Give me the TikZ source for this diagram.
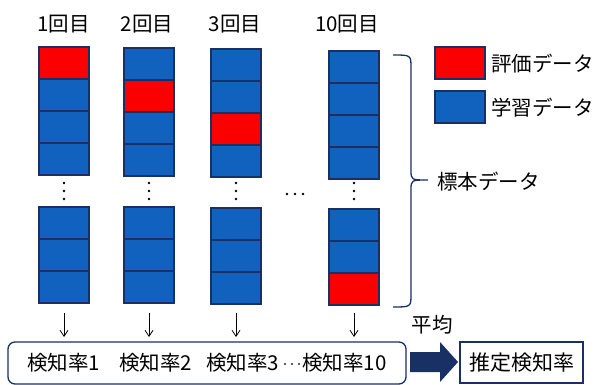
\documentclass[tikz,border=0pt]{standalone}
\usepackage{fontspec}
\setmainfont{Noto Sans CJK JP}
\usetikzlibrary{arrows.meta}
\definecolor{navy}{RGB}{24,48,100}
\definecolor{cellblue}{RGB}{16,98,190}
\definecolor{cellred}{RGB}{250,0,0}
\tikzset{
  cell/.style={draw=navy, line width=1.1pt, minimum width=50pt, minimum height=32pt, inner sep=0pt, outer sep=0pt},
  bluecell/.style={cell, fill=cellblue},
  redcell/.style={cell, fill=cellred},
  lbl/.style={font=\fontsize{20.5}{20.5}\selectfont, inner sep=0pt},
  dotmark/.style={fill=black, circle, inner sep=0pt, minimum size=2.8pt},
  smalldot/.style={fill=black!85, circle, inner sep=0pt, minimum size=2.4pt},
  downarrow/.style={-{Straight Barb[length=6pt,width=8pt]}, line width=0.8pt},
}
\begin{document}
\begin{tikzpicture}[x=1pt,y=-1pt]
\useasboundingbox (0,0) rectangle (595,385);
% column labels
\node[lbl] (l1) at (63.5,24) {1回目};
\node[lbl] (l2) at (147,24) {2回目};
\node[lbl] (l3) at (235,24) {3回目};
\node[lbl] (l10) at (347,24) {10回目};
% columns: center x, top y, red index (top block), bottom top y, red bottom index
\foreach \c/\x/\t/\r/\b/\rb in {1/64/47/1/207/0, 2/149/48/2/207/0, 3/236/49/3/208/0, 10/354/51/0/209/3}{
  \foreach \i in {1,...,4}{
    \ifnum\i=\r
      \node[redcell] (c\c t\i) at (\x,{\t+16+32*(\i-1)}) {};
    \else
      \node[bluecell] (c\c t\i) at (\x,{\t+16+32*(\i-1)}) {};
    \fi
  }
  \foreach \i in {1,...,3}{
    \ifnum\i=\rb
      \node[redcell] (c\c b\i) at (\x,{\b+16+32*(\i-1)}) {};
    \else
      \node[bluecell] (c\c b\i) at (\x,{\b+16+32*(\i-1)}) {};
    \fi
  }
  \foreach \d in {183,191,199}{
    \node[dotmark] at (\x,\d) {};
  }
  \coordinate (a\c s) at (\x,313);
  \coordinate (a\c e) at (\x,337);
  \draw[downarrow] (a\c s) -- (a\c e);
}
% horizontal ellipsis
\foreach \d in {287,295,303}{
  \node[dotmark] at (\d,194) {};
}
% brace
\draw[navy, line width=1.3pt] (393,55) .. controls (411,55) .. (411,68) -- (411,170)
  .. controls (411,180) .. (428,180) .. controls (411,180) .. (411,190) -- (411,294)
  .. controls (411,307) .. (393,307);
\node[lbl, anchor=west] (hyohon) at (437,182) {標本データ};
% legend
\node[redcell] (legr) at (460,63) {};
\node[bluecell] (legb) at (460,107) {};
\node[lbl, anchor=west] (legrt) at (491,64) {評価データ};
\node[lbl, anchor=west] (legbt) at (491,108) {学習データ};
% bottom box
\node[draw=navy, line width=1.3pt, rounded corners=7pt, minimum width=398pt, minimum height=42pt, inner sep=0pt] (rates) at (207,363) {};
\node[lbl, anchor=west] (r1) at (27,363) {検知率1};
\node[lbl, anchor=west] (r2) at (119,363) {検知率2};
\node[lbl, anchor=west] (r3) at (206,363) {検知率3};
\foreach \d in {285,292,299}{
  \node[smalldot] at (\d,364) {};
}
\node[lbl, anchor=west] (r10) at (302,363) {検知率10};
% thick arrow
\fill[navy] (410,352) -- (440,352) -- (440,342) -- (458,362) -- (440,382) -- (440,372) -- (410,372) -- cycle;
\node[lbl] (heikin) at (432,325) {平均};
\node[draw=navy, line width=1.5pt, minimum width=123pt, minimum height=41pt, inner sep=0pt, font=\fontsize{21}{21}\selectfont] (est) at (521.5,362.5) {推定検知率};
\end{tikzpicture}
\end{document}
